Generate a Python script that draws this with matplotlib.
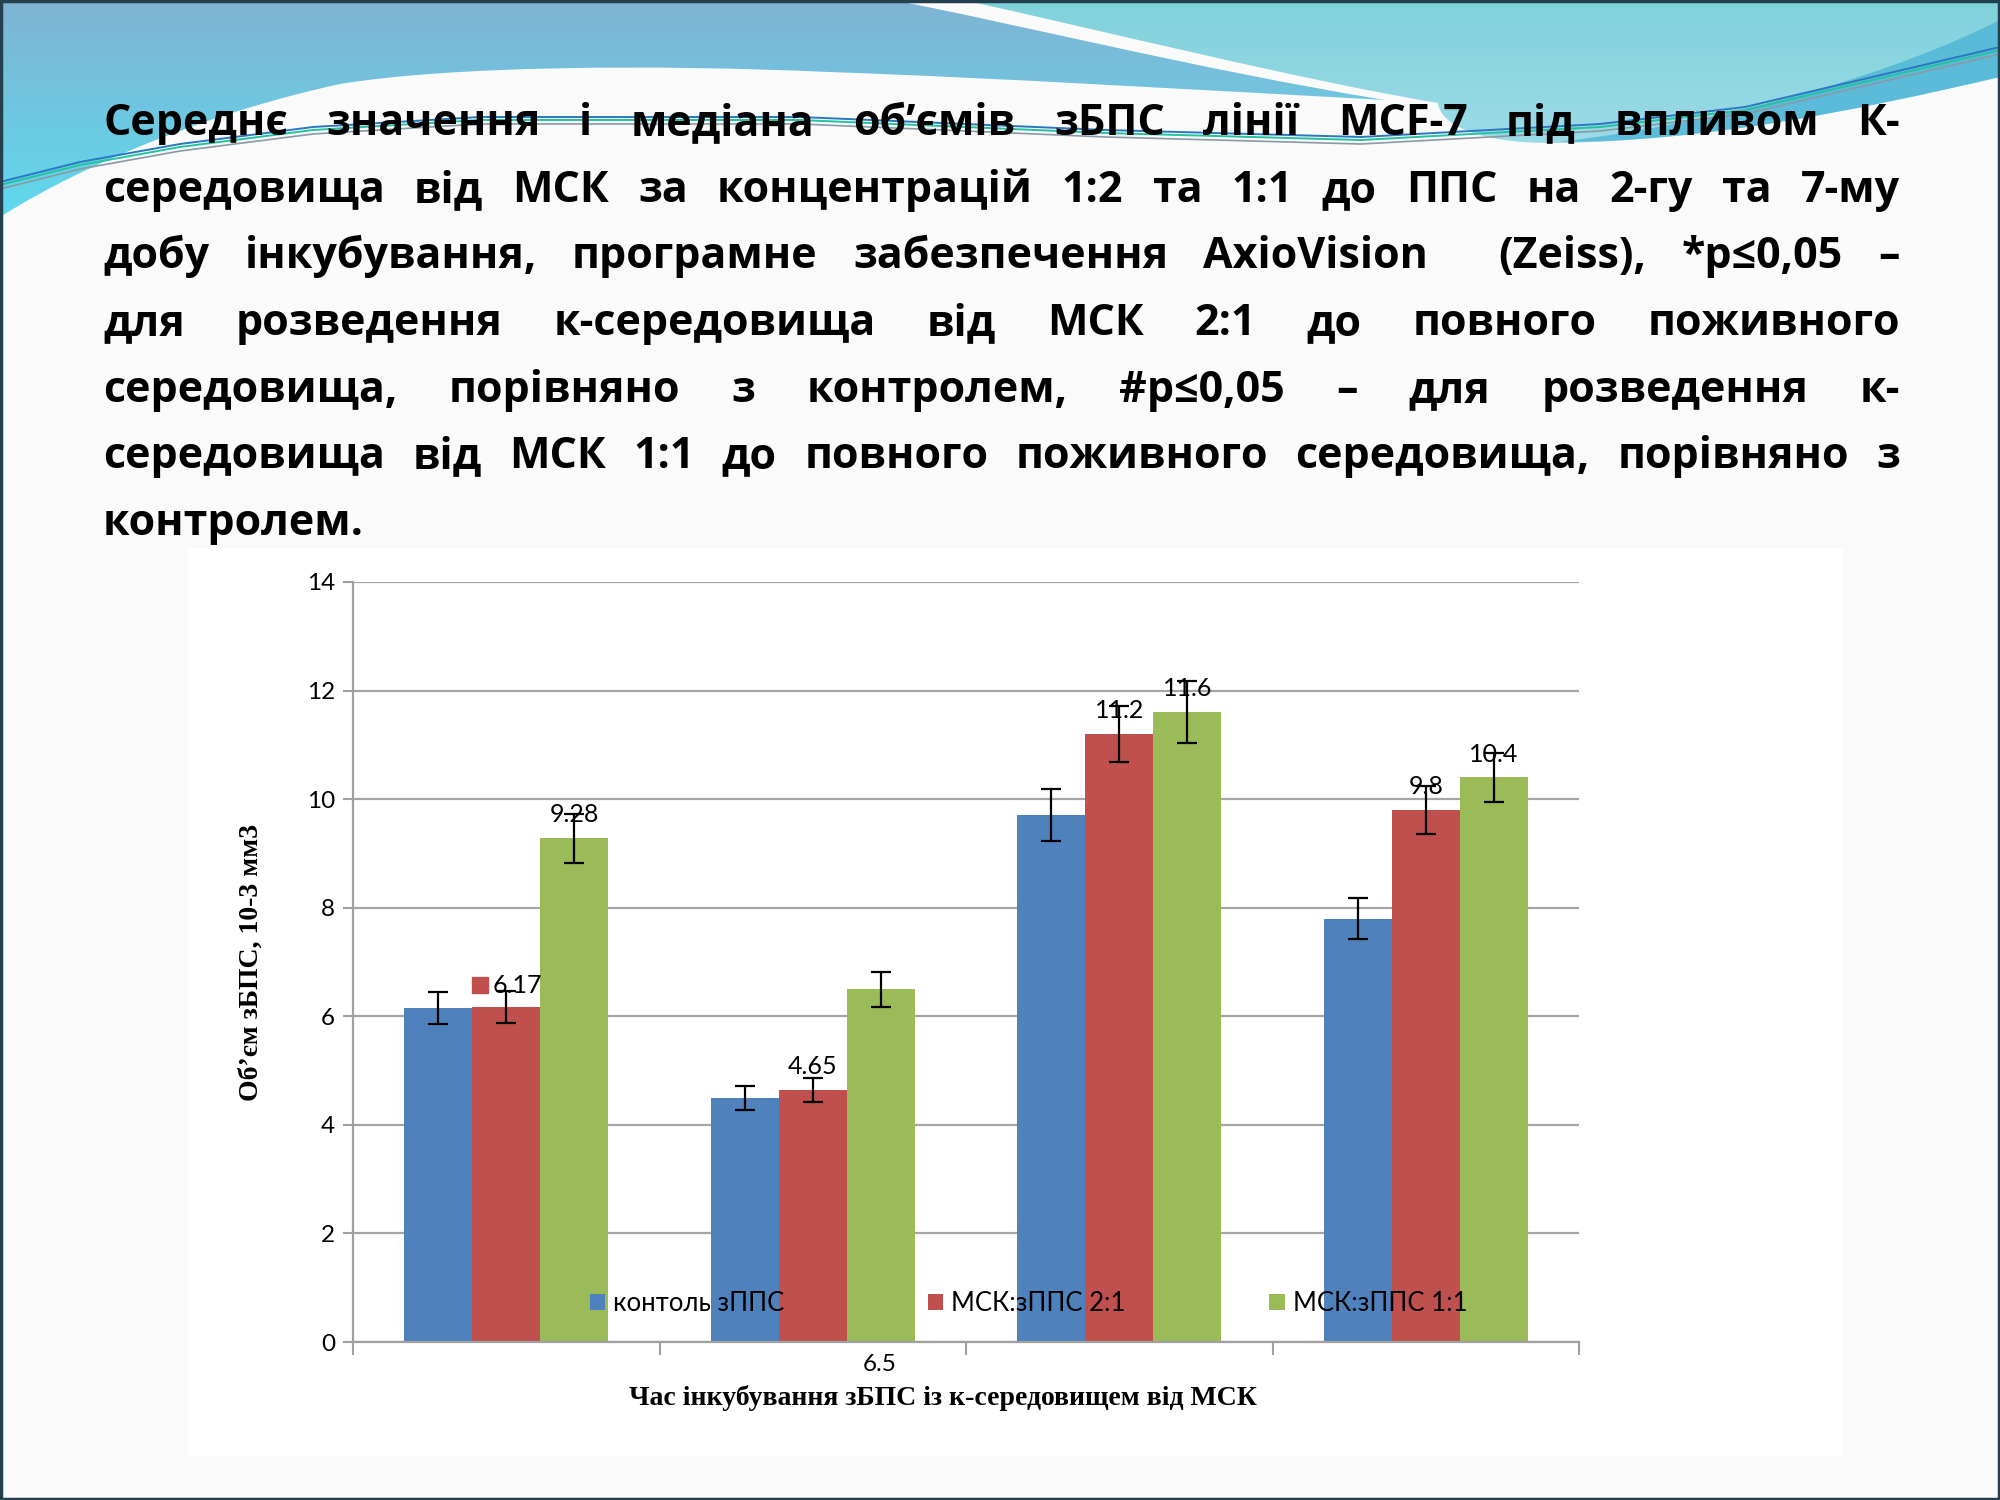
import matplotlib.pyplot as plt
import numpy as np
from matplotlib.path import Path
from matplotlib.patches import PathPatch, Rectangle
from matplotlib.colors import LinearSegmentedColormap
from matplotlib.transforms import blended_transform_factory

# --- data ---
series_names = ['контоль зППС', 'МСК:зППС 2:1', 'МСК:зППС 1:1']
control = [6.15, 4.5, 9.7, 7.8]
msc_21 = [6.17, 4.65, 11.2, 9.8]
msc_11 = [9.28, 6.5, 11.6, 10.4]
err_control = [0.30, 0.22, 0.48, 0.38]
err_21 = [0.29, 0.22, 0.52, 0.45]
err_11 = [0.45, 0.32, 0.57, 0.45]
labels_control = [None, None, None, None]
labels_21 = ['6.17', '4.65', '11.2', '9.8']
labels_11 = ['9.28', None, '11.6', '10.4']
x_tick_label = '6.5'
colors = ['#4f81bd', '#c0504d', '#9bbb59']

title_lines = [
    'Середнє значення і медіана об’ємів зБПС лінії MCF-7 під впливом К-',
    'середовища від МСК за концентрацій 1:2 та 1:1 до ППС на 2-гу та 7-му',
    'добу інкубування, програмне забезпечення AxioVision  (Zeiss), *p≤0,05 –',
    'для розведення к-середовища від МСК 2:1 до повного поживного',
    'середовища, порівняно з контролем, #p≤0,05 – для розведення к-',
    'середовища від МСК 1:1 до повного поживного середовища, порівняно з',
    'контролем.',
]

sans = ['Lato', 'Open Sans', 'DejaVu Sans']
title_font = ['Open Sans', 'DejaVu Sans']
serif = ['Liberation Serif', 'DejaVu Serif']
plt.rcParams['font.family'] = sans

fig = plt.figure(figsize=(20, 15), dpi=100, facecolor='#fafafa')

# slide background drawn in pixel coordinates
bg = fig.add_axes([0, 0, 1, 1], zorder=0)
bg.axis('off')


def grad_shape(verts, codes, c_top, c_bot, y0, y1):
    patch = PathPatch(Path(verts, codes), facecolor='none', edgecolor='none')
    bg.add_patch(patch)
    cmap = LinearSegmentedColormap.from_list('g', [c_top, c_bot])
    im = bg.imshow(np.linspace(0, 1, 256)[:, None], cmap=cmap, aspect='auto',
                   extent=(0, 2000, y1, y0), origin='upper', zorder=1)
    im.set_clip_path(patch)


M, L, C, Z = Path.MOVETO, Path.LINETO, Path.CURVE4, Path.CLOSEPOLY
# teal wave (right)
grad_shape([(963, 0), (2000, 0), (2000, 77),
            (1850, 112), (1700, 142), (1550, 143),
            (1480, 143), (1440, 125), (1438, 103),
            (1300, 80), (1100, 30), (963, 0), (963, 0)],
           [M, L, L, C, C, C, C, C, C, C, C, C, Z],
           '#7fd2da', '#9edbe9', 0, 150)
# darker streak at the right edge
bg.add_patch(PathPatch(Path([(1560, 142), (1750, 118), (1900, 70), (2000, 20),
                             (2000, 77), (1850, 112), (1700, 142), (1560, 142), (1560, 142)],
                            [M, C, C, C, L, C, C, C, Z]),
                       facecolor='#45b0d6', edgecolor='none', alpha=0.7, zorder=2))
# steel-blue wave (left)
grad_shape([(0, 0), (892, 0),
            (1000, 20), (1200, 70), (1385, 100),
            (1200, 90), (1000, 78), (829, 72),
            (650, 64), (450, 66), (340, 84),
            (220, 110), (90, 160), (0, 217), (0, 0)],
           [M, L, C, C, C, C, C, C, C, C, C, C, C, C, Z],
           '#80b3d3', '#5edaee', 0, 220)
# thin swoosh lines
sw_x = np.array([0, 80, 180, 313, 480, 800, 1106, 1361, 1600, 1745, 2000])
sw_y = np.array([185, 165, 147, 130, 120, 120, 133, 140, 127, 110, 50])
for dy, col, lw in [(-3, '#2a78c0', 1.4), (0, '#24c2a2', 1.4), (4, '#8a9aa5', 1.2)]:
    bg.plot(sw_x, sw_y + dy, color=col, lw=lw, zorder=3, solid_capstyle='round')

# white chart area
bg.add_patch(Rectangle((188, 548), 1655, 908, facecolor='white', edgecolor='none', zorder=2))
bg.add_patch(Rectangle((1, 1), 1998, 1498, facecolor='none', edgecolor='#24404f', lw=2.5, zorder=5))
bg.set_xlim(0, 2000)
bg.set_ylim(1500, 0)

# justified title
fig.canvas.draw()
renderer = fig.canvas.get_renderer()
left_x, right_x = 103, 1900
base0, line_gap = 135, 66.7
for i, line in enumerate(title_lines):
    y = base0 + i * line_gap
    words = line.split(' ')
    if i == len(title_lines) - 1:
        bg.text(left_x, y, line, fontsize=31, fontweight='bold', family=title_font,
                va='baseline', ha='left', zorder=6)
        continue
    arts, widths = [], []
    for w in words:
        t = bg.text(0, y, w, fontsize=31, fontweight='bold', family=title_font,
                    va='baseline', ha='left', zorder=6)
        arts.append(t)
        widths.append(t.get_window_extent(renderer).width if w else 0.0)
    gap = (right_x - left_x - sum(widths)) / (len(words) - 1)
    cx = left_x
    for t, w in zip(arts, widths):
        t.set_x(cx)
        cx += w + gap

# axis titles
bg.text(251, 962, 'Об’єм зБПС, 10-3 мм3', rotation=90, family=serif, fontweight='bold',
        fontsize=20, ha='center', va='center', zorder=6)
bg.text(943, 1398, 'Час інкубування зБПС із к-середовищем від МСК', family=serif,
        fontweight='bold', fontsize=20, ha='center', va='center', zorder=6)

# --- chart ---
ax = fig.add_axes([0.1765, 0.10533, 0.613, 0.50667], zorder=2)
ax.set_facecolor('none')
x = np.arange(len(control))
w = 0.222
all_vals = [control, msc_21, msc_11]
all_err = [err_control, err_21, err_11]
all_lab = [labels_control, labels_21, labels_11]
for k, (vals, errs, labs) in enumerate(zip(all_vals, all_err, all_lab)):
    pos = x + (k - 1) * w
    ax.bar(pos, vals, width=w, color=colors[k], label=series_names[k], zorder=2)
    ax.errorbar(pos, vals, yerr=errs, fmt='none', ecolor='black', elinewidth=1.6,
                capsize=7, capthick=1.6, zorder=4)
    for p, v, lab in zip(pos, vals, labs):
        if lab is None:
            continue
        if k == 1 and p == pos[0]:
            # this label carries a legend key in the original
            ax.plot(p - 0.086, v + 0.4, marker='s', ms=11, color=colors[k],
                    ls='none', zorder=5)
            ax.text(p - 0.045, v + 0.4, lab, fontsize=18, ha='left', va='center', zorder=5)
        else:
            ax.text(p, v + 0.43, lab, fontsize=18, ha='center', va='center', zorder=5)

ax.set_xlim(-0.5, 3.5)
ax.set_ylim(0, 14)
ax.set_yticks(range(0, 15, 2))
ax.set_xticks(np.arange(-0.5, 4, 1))
ax.set_xticklabels([])
ax.tick_params(axis='y', labelsize=17.5, length=7, width=1.5, color='#a0a0a0', pad=6)
ax.tick_params(axis='x', length=9, width=1.5, color='#a0a0a0')
ax.yaxis.grid(True, color='#a5a5a5', lw=1.6, zorder=0)
ax.set_axisbelow(True)
for s in ['top', 'right']:
    ax.spines[s].set_visible(False)
for s in ['left', 'bottom']:
    ax.spines[s].set_color('#a0a0a0')
    ax.spines[s].set_linewidth(1.6)

ax.text(1.22, -0.030, x_tick_label, fontsize=17.5, ha='center', va='center',
        transform=blended_transform_factory(ax.transData, ax.transAxes))

ax.legend(loc='center left', bbox_to_anchor=(0.193, 0.0505), ncol=3, frameon=False,
          fontsize=18.5, handlelength=0.6, handleheight=0.6, handletextpad=0.3,
          columnspacing=5.6, borderpad=0, borderaxespad=0)

fig.savefig('out.png', dpi=100, facecolor=fig.get_facecolor())
